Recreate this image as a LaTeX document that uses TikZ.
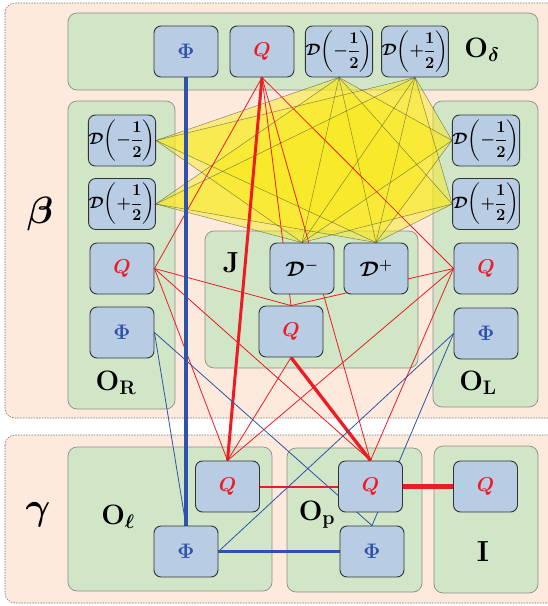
\RequirePackage{fix-cm}
\documentclass[tikz,border=0pt]{standalone}
\usepackage{amsmath,bm}
\pgfdeclarelayer{bg}
\pgfdeclarelayer{mid}
\pgfsetlayers{bg,mid,main}
\definecolor{peach}{RGB}{253,234,221}
\definecolor{greenbg}{RGB}{208,230,198}
\definecolor{nodeblue}{RGB}{184,204,228}
\definecolor{qred}{RGB}{237,28,36}
\definecolor{phiblue}{RGB}{47,82,170}
\definecolor{triyellow}{RGB}{248,234,30}
\newcommand{\myQ}{\textcolor{qred}{\fontsize{20}{20}\selectfont$\bm{Q}$}}
\newcommand{\myPhi}{\textcolor{phiblue}{\fontsize{21}{21}\selectfont$\bm{\Phi}$}}
\newcommand{\myD}[1]{{\fontsize{16.5}{16.5}\selectfont\boldmath$\mathcal{D}\!\left(#1\dfrac{1}{2}\right)$}}
\newcommand{\myDs}[1]{{\fontsize{21}{21}\selectfont\boldmath$\mathcal{D}^{#1}$}}
\newcommand{\myLab}[1]{{\fontsize{28}{28}\selectfont\boldmath$\mathbf{O}_{#1}$}}
\tikzset{
  region/.style={fill=peach, draw=black!55, dash pattern=on 1.5pt off 1.2pt, line width=0.6pt, rounded corners=10pt},
  gbox/.style={fill=greenbg, draw=black!45, line width=0.7pt, rounded corners=9pt},
  nd/.style={fill=nodeblue, draw=black!80, line width=0.9pt, rounded corners=7pt, minimum width=64pt, minimum height=51pt, inner sep=0pt},
  tri/.style={fill=triyellow, fill opacity=0.28},
  triedge/.style={draw=black!80, draw opacity=0.55, line width=0.5pt},
  rthin/.style={draw=qred, line width=0.8pt},
  bthin/.style={draw=phiblue, line width=0.8pt},
  lab/.style={inner sep=0pt}
}
\begin{document}
\begin{tikzpicture}[x=1pt,y=-1pt]
\useasboundingbox (0,0) rectangle (548,606);
\begin{pgfonlayer}{bg}
  \draw[region] (5,3) rectangle (620,418);
  \draw[region] (5,435) rectangle (620,603);
  \draw[gbox] (68,13) rectangle (538,90);
  \draw[gbox] (68,101) rectangle (175,409);
  \draw[gbox] (205,231) rectangle (418,368);
  \draw[gbox] (433,101) rectangle (538,407);
  \draw[gbox] (68,447) rectangle (272,591);
  \draw[gbox] (287,448) rectangle (422,592);
  \draw[gbox] (434,446) rectangle (538,593);
\end{pgfonlayer}
% nodes
\node[nd] (tPhi) at (186,51.5) {\myPhi};
\node[nd] (tQ) at (262,51.5) {\myQ};
\node[nd] (tDm) at (339,51.5) {\myD{-}};
\node[nd] (tDp) at (415,51.5) {\myD{+}};
\node[nd] (rDm) at (122,140.5) {\myD{-}};
\node[nd] (rDp) at (122,204) {\myD{+}};
\node[nd] (rQ) at (122,268.5) {\myQ};
\node[nd] (rPhi) at (122,332.5) {\myPhi};
\node[nd] (lDm) at (486,140.5) {\myD{-}};
\node[nd] (lDp) at (486,204) {\myD{+}};
\node[nd] (lQ) at (486,268.5) {\myQ};
\node[nd] (lPhi) at (486,333.5) {\myPhi};
\node[nd] (jDm) at (302,268.5) {\myDs{-}};
\node[nd] (jDp) at (376,268.5) {\myDs{+}};
\node[nd] (jQ) at (291,331.5) {\myQ};
\node[nd] (eQ) at (227.5,486.5) {\myQ};
\node[nd] (ePhi) at (186,551.5) {\myPhi};
\node[nd] (pQ) at (370.5,486.5) {\myQ};
\node[nd] (pPhi) at (372,551.5) {\myPhi};
\node[nd] (iQ) at (485.5,486.5) {\myQ};
% labels
\node[lab] (labD) at (482,50) {\myLab{\bm{\delta}}};
\node[lab] (labR) at (116,383) {\myLab{\mathbf{R}}};
\node[lab] (labL) at (478,383) {\myLab{\mathbf{L}}};
\node[lab] (labJ) at (231,263) {\fontsize{29}{29}\selectfont\bfseries J};
\node[lab] (labE) at (118,517) {\myLab{\bm{\ell}}};
\node[lab] (labP) at (317,515) {\myLab{\mathbf{p}}};
\node[lab] (labI) at (483,552) {\fontsize{29}{29}\selectfont\bfseries I};
\node[lab] (beta) at (40,214) {\fontsize{38}{38}\selectfont$\bm{\beta}$};
\node[lab] (gamma) at (38,515) {\fontsize{38}{38}\selectfont$\bm{\gamma}$};
\begin{pgfonlayer}{mid}
  % yellow triangles
  \foreach \s in {rDm.east,rDp.east,lDm.west,lDp.west}
    \foreach \t in {tDm.south,tDp.south}
      \foreach \j in {jDm.north,jDp.north}
        \fill[tri] (\s) -- (\t) -- (\j) -- cycle;
  \foreach \s in {rDm.east,rDp.east,lDm.west,lDp.west}
    \foreach \t in {tDm.south,tDp.south,jDm.north,jDp.north}
      \draw[triedge] (\s) -- (\t);
  \foreach \t in {tDm.south,tDp.south}
    \foreach \j in {jDm.north,jDp.north}
      \draw[triedge] (\t) -- (\j);
  % red lines
  \draw[rthin] (tQ.south) -- (rQ.east);
  \draw[rthin] (tQ.south) -- (lQ.west);
  \draw[rthin] (tQ.south) -- (jQ.north);
  \draw[rthin] (tQ.south) -- (pQ.north);
  \draw[qred, line width=3pt] (tQ.south) -- (eQ.north);
  \draw[rthin] (rQ.east) -- (jQ.north);
  \draw[rthin] (rQ.east) -- (eQ.north);
  \draw[rthin] (rQ.east) -- (pQ.north);
  \draw[rthin] (lQ.west) -- (jQ.north);
  \draw[rthin] (lQ.west) -- (eQ.north);
  \draw[rthin] (lQ.west) -- (pQ.north);
  \draw[rthin] (jQ.south) -- (eQ.north);
  \draw[qred, line width=3.3pt] (jQ.south) -- (pQ.north);
  \draw[qred, line width=2pt] (eQ.east) -- (pQ.west);
  \draw[qred, line width=4.5pt] (pQ.east) -- (iQ.west);
  % blue lines
  \draw[phiblue, line width=3.5pt] (tPhi.south) -- (ePhi.north);
  \draw[phiblue, line width=2.4pt] (ePhi.east) -- (pPhi.west);
  \draw[bthin] (rPhi.east) -- (pPhi.north);
  \draw[bthin] (rPhi.east) -- (ePhi.north);
  \draw[bthin] (lPhi.west) -- (ePhi.east);
  \draw[bthin] (lPhi.west) -- (pPhi.north);
\end{pgfonlayer}
\end{tikzpicture}
\end{document}
